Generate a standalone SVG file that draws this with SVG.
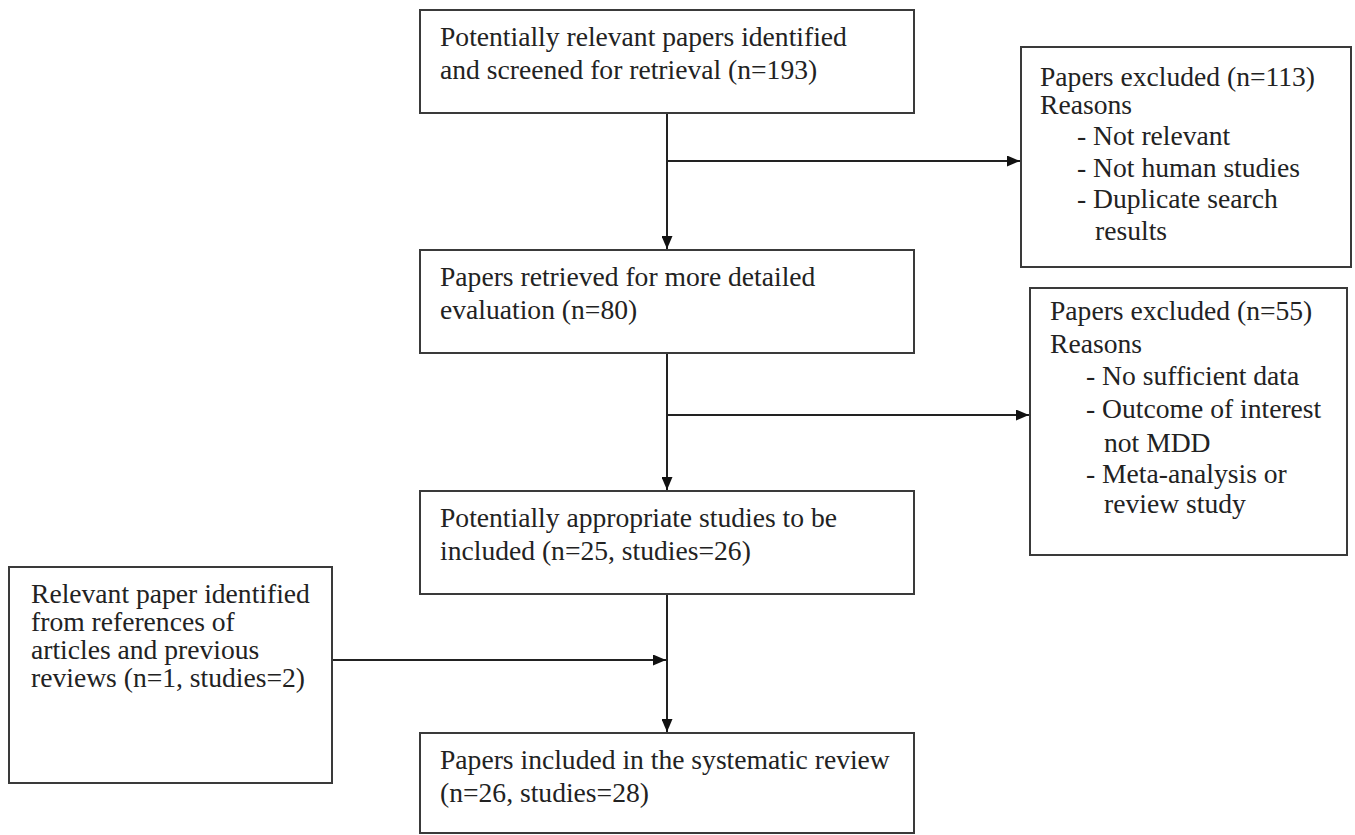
<svg xmlns="http://www.w3.org/2000/svg" width="1355" height="835" viewBox="0 0 1355 835">
<style>
.box{fill:#fff;stroke:#3a3a3a;stroke-width:2}
.t{font-family:"Liberation Serif","Times New Roman",serif;font-size:27.6px;fill:#222}
.c{fill:none;stroke:#222;stroke-width:2}
</style>
<defs>
<marker id="ah" markerUnits="userSpaceOnUse" markerWidth="13" markerHeight="11" refX="13" refY="5.5" orient="auto">
<path d="M0,0 L13,5.5 L0,11 z" fill="#111"/>
</marker>
</defs>
<rect width="1355" height="835" fill="#fff"/>
<g id="connectors">
<line class="c" x1="667" y1="113" x2="667" y2="249" marker-end="url(#ah)"/>
<line class="c" x1="667" y1="161" x2="1020" y2="161" marker-end="url(#ah)"/>
<line class="c" x1="667" y1="353" x2="667" y2="490" marker-end="url(#ah)"/>
<line class="c" x1="667" y1="415" x2="1029" y2="415" marker-end="url(#ah)"/>
<line class="c" x1="667" y1="594" x2="667" y2="732" marker-end="url(#ah)"/>
<line class="c" x1="332" y1="660" x2="666" y2="660" marker-end="url(#ah)"/>
</g>
<g id="n1">
<rect class="box" x="420" y="10" width="494" height="103"/>
<text class="t" x="440" y="46">Potentially relevant papers identified</text>
<text class="t" x="440" y="79">and screened for retrieval (n=193)</text>
</g>
<g id="n2">
<rect class="box" x="420" y="250" width="494" height="103"/>
<text class="t" x="440" y="286">Papers retrieved for more detailed</text>
<text class="t" x="440" y="319">evaluation (n=80)</text>
</g>
<g id="n3">
<rect class="box" x="420" y="491" width="494" height="103"/>
<text class="t" x="440" y="527">Potentially appropriate studies to be</text>
<text class="t" x="440" y="560">included (n=25, studies=26)</text>
</g>
<g id="n4">
<rect class="box" x="420" y="733" width="494" height="100"/>
<text class="t" x="440" y="769">Papers included in the systematic review</text>
<text class="t" x="440" y="802">(n=26, studies=28)</text>
</g>
<g id="n5">
<rect class="box" x="9" y="567" width="323" height="216"/>
<text class="t" x="31" y="603">Relevant paper identified</text>
<text class="t" x="31" y="631">from references of</text>
<text class="t" x="31" y="659">articles and previous</text>
<text class="t" x="31" y="687">reviews (n=1, studies=2)</text>
</g>
<g id="e1">
<rect class="box" x="1021" y="47" width="330" height="220"/>
<text class="t" x="1040" y="86">Papers excluded (n=113)</text>
<text class="t" x="1040" y="114">Reasons</text>
<text class="t" x="1077" y="145">- Not relevant</text>
<text class="t" x="1077" y="177">- Not human studies</text>
<text class="t" x="1077" y="208">- Duplicate search</text>
<text class="t" x="1095" y="240">results</text>
</g>
<g id="e2">
<rect class="box" x="1030" y="288" width="317" height="267"/>
<text class="t" x="1050" y="320">Papers excluded (n=55)</text>
<text class="t" x="1050" y="353">Reasons</text>
<text class="t" x="1086" y="385">- No sufficient data</text>
<text class="t" x="1086" y="418">- Outcome of interest</text>
<text class="t" x="1104" y="452">not MDD</text>
<text class="t" x="1086" y="483">- Meta-analysis or</text>
<text class="t" x="1104" y="513">review study</text>
</g>
</svg>
